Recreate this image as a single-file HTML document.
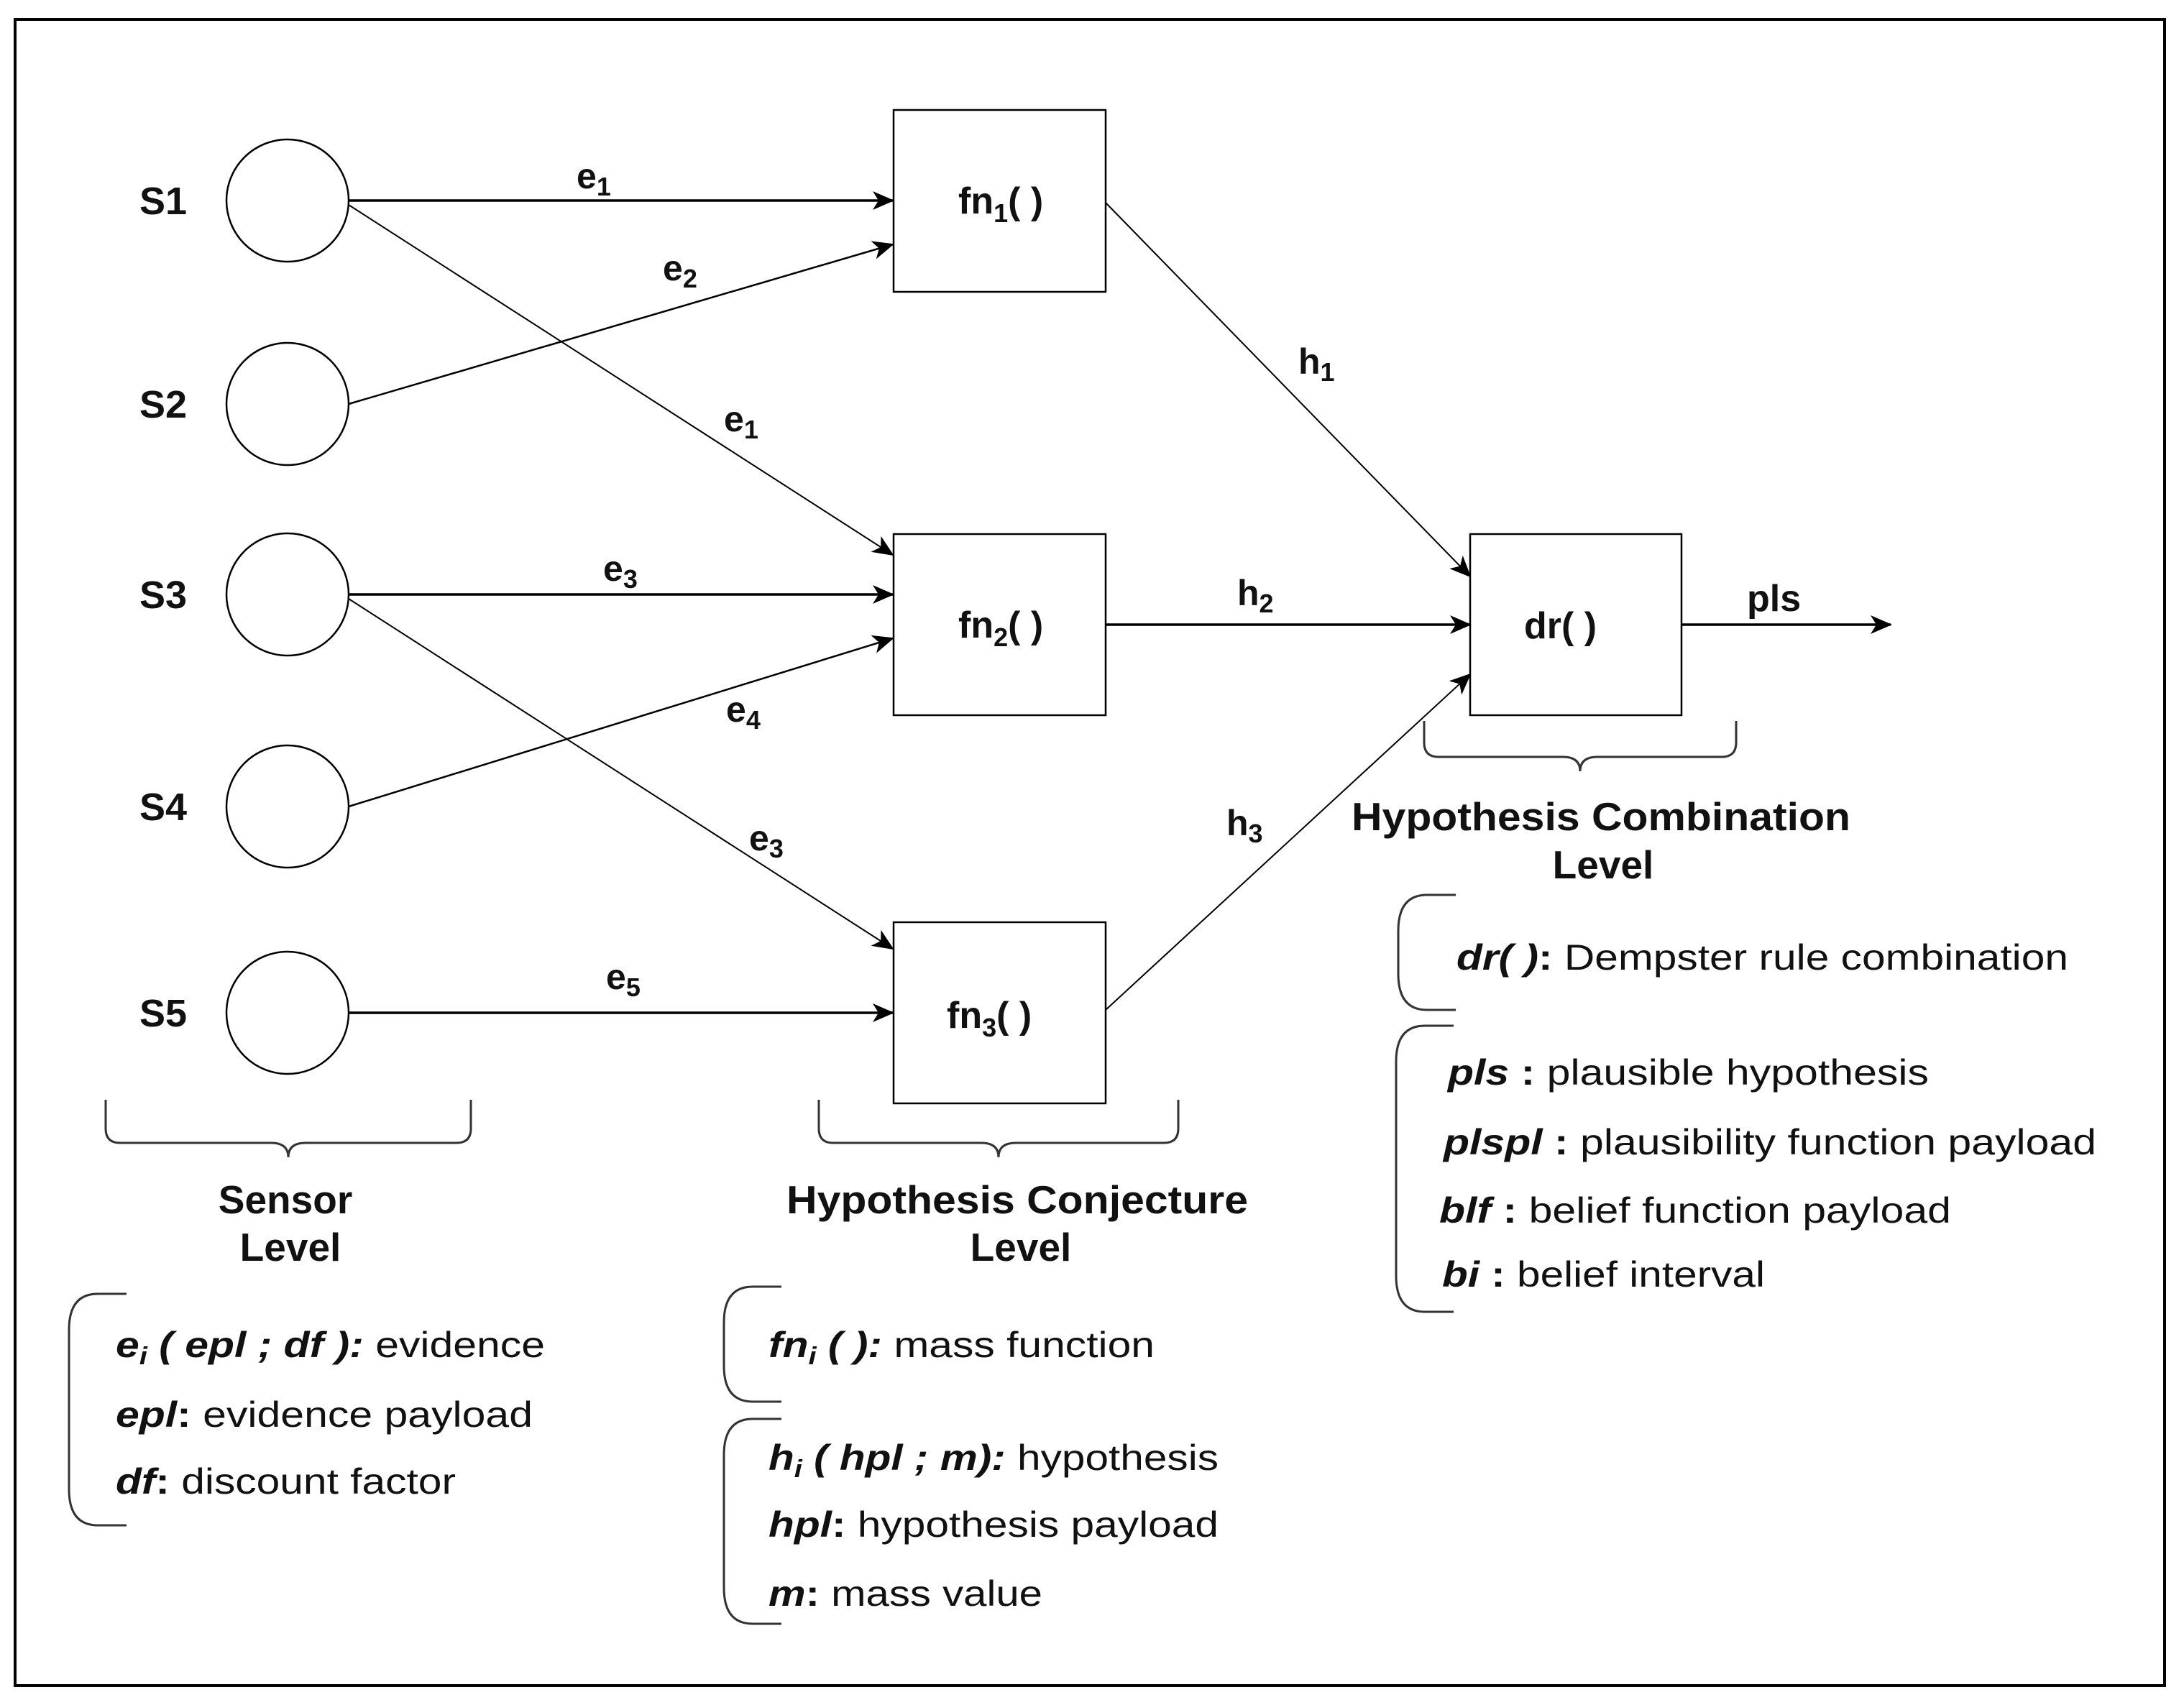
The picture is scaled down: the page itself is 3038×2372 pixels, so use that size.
<!DOCTYPE html>
<html><head><meta charset="utf-8"><style>html,body{margin:0;padding:0;background:#fff}svg{display:block}text{font-family:"Liberation Sans",Arial,sans-serif;fill:#111}</style></head>
<body>
<svg width="3038" height="2372" viewBox="0 0 3038 2372" xmlns="http://www.w3.org/2000/svg">
<defs>
<marker id="b" markerWidth="30" markerHeight="26" refX="28" refY="13" orient="auto" markerUnits="userSpaceOnUse" viewBox="0 0 30 26">
<path d="M0,0 L30,13 L0,26 L8,13 Z" fill="#000"/></marker>
</defs>
<rect x="21" y="27" width="2990" height="2318" fill="none" stroke="#000" stroke-width="4"/>

<g fill="#fff" stroke="#000" stroke-width="2.5">
<ellipse cx="400" cy="279" rx="85" ry="85"/>
<ellipse cx="400" cy="562" rx="85" ry="85"/>
<ellipse cx="400" cy="827" rx="85" ry="85"/>
<ellipse cx="400" cy="1122" rx="85" ry="85"/>
<ellipse cx="400" cy="1409" rx="85" ry="85"/>
<rect x="1243" y="153" width="295" height="253"/>
<rect x="1243" y="743" width="295" height="252"/>
<rect x="1243" y="1283" width="295" height="252"/>
<rect x="2045" y="743" width="294" height="252"/>
</g>

<g stroke="#000" fill="none">
<line x1="485" y1="279" x2="1242" y2="279" stroke-width="3.5" marker-end="url(#b)"/>
<line x1="485" y1="285" x2="1242" y2="772" stroke-width="2" marker-end="url(#b)"/>
<line x1="485" y1="562" x2="1242" y2="340" stroke-width="2.5" marker-end="url(#b)"/>
<line x1="485" y1="827" x2="1242" y2="827" stroke-width="3.5" marker-end="url(#b)"/>
<line x1="485" y1="833" x2="1242" y2="1320" stroke-width="2" marker-end="url(#b)"/>
<line x1="485" y1="1122" x2="1242" y2="888" stroke-width="2.5" marker-end="url(#b)"/>
<line x1="485" y1="1409" x2="1242" y2="1409" stroke-width="3.5" marker-end="url(#b)"/>
<line x1="1538" y1="282" x2="2045" y2="802" stroke-width="2" marker-end="url(#b)"/>
<line x1="1538" y1="869" x2="2045" y2="869" stroke-width="3.5" marker-end="url(#b)"/>
<line x1="1538" y1="1405" x2="2045" y2="938" stroke-width="2" marker-end="url(#b)"/>
<line x1="2339" y1="869" x2="2630" y2="869" stroke-width="3.5" marker-end="url(#b)"/>
</g>

<g stroke="#333" stroke-width="3" fill="none">
<path d="M147,1530 v40 q0,20 20,20 h210 q24,0 24,20 q0,-20 24,-20 h210 q20,0 20,-20 v-40"/>
<path d="M1139,1530 v40 q0,20 20,20 h206 q24,0 24,20 q0,-20 24,-20 h206 q20,0 20,-20 v-40"/>
<path d="M1981,1003 v30 q0,20 20,20 h173 q24,0 24,20 q0,-20 24,-20 h173 q20,0 20,-20 v-30"/>
<path d="M176,1800 h-40 q-40,0 -40,50 v222 q0,50 40,50 h40"/>
<path d="M1087,1790 h-40 q-40,0 -40,50 v60 q0,50 40,50 h40"/>
<path d="M1087,1974 h-40 q-40,0 -40,50 v185 q0,50 40,50 h40"/>
<path d="M2025,1245 h-40 q-40,0 -40,50 v60 q0,50 40,50 h40"/>
<path d="M2022,1427 h-40 q-40,0 -40,50 v298 q0,50 40,50 h40"/>
</g>

<g font-weight="bold" font-size="54">
<text x="194" y="298">S1</text>
<text x="194" y="581">S2</text>
<text x="194" y="846">S3</text>
<text x="194" y="1141">S4</text>
<text x="194" y="1428">S5</text>
</g>
<g font-weight="bold" font-size="52">
<text x="1333" y="297">fn<tspan font-size="36" dy="12">1</tspan><tspan dy="-12">( )</tspan></text>
<text x="1333" y="887">fn<tspan font-size="36" dy="12">2</tspan><tspan dy="-12">( )</tspan></text>
<text x="1317" y="1430">fn<tspan font-size="36" dy="12">3</tspan><tspan dy="-12">( )</tspan></text>
<text x="2120" y="888">dr( )</text>
<text x="2430" y="850">pls</text>
</g>
<g font-weight="bold" font-size="50">
<text x="802" y="262">e<tspan font-size="36" dy="10">1</tspan></text>
<text x="922" y="390">e<tspan font-size="36" dy="10">2</tspan></text>
<text x="1007" y="600">e<tspan font-size="36" dy="10">1</tspan></text>
<text x="839" y="808">e<tspan font-size="36" dy="10">3</tspan></text>
<text x="1010" y="1004">e<tspan font-size="36" dy="10">4</tspan></text>
<text x="1042" y="1183">e<tspan font-size="36" dy="10">3</tspan></text>
<text x="843" y="1376">e<tspan font-size="36" dy="10">5</tspan></text>
<text x="1806" y="520">h<tspan font-size="36" dy="10">1</tspan></text>
<text x="1721" y="842">h<tspan font-size="36" dy="10">2</tspan></text>
<text x="1706" y="1162">h<tspan font-size="36" dy="10">3</tspan></text>
</g>
<g font-weight="bold" font-size="55" text-anchor="middle">
<text x="397" y="1688">Sensor</text>
<text x="404" y="1754">Level</text>
<text x="1415" y="1688" textLength="642" lengthAdjust="spacingAndGlyphs">Hypothesis Conjecture</text>
<text x="1420" y="1754">Level</text>
<text x="2227" y="1155" textLength="694" lengthAdjust="spacingAndGlyphs">Hypothesis Combination</text>
<text x="2230" y="1222">Level</text>
</g>
<g font-size="50">
<text x="161" y="1888" textLength="597" lengthAdjust="spacingAndGlyphs"><tspan font-weight="bold" font-style="italic">e<tspan font-size="34" dy="10">i</tspan><tspan dy="-10"> ( epl ; df ):</tspan></tspan> evidence</text>
<text x="161" y="1985" textLength="580" lengthAdjust="spacingAndGlyphs"><tspan font-weight="bold" font-style="italic">epl</tspan><tspan font-weight="bold">:</tspan> evidence payload</text>
<text x="161" y="2078" textLength="473" lengthAdjust="spacingAndGlyphs"><tspan font-weight="bold" font-style="italic">df</tspan><tspan font-weight="bold">:</tspan> discount factor</text>
<text x="1069" y="1888" textLength="537" lengthAdjust="spacingAndGlyphs"><tspan font-weight="bold" font-style="italic">fn<tspan font-size="34" dy="10">i</tspan><tspan dy="-10"> ( ):</tspan></tspan> mass function</text>
<text x="1069" y="2045" textLength="626" lengthAdjust="spacingAndGlyphs"><tspan font-weight="bold" font-style="italic">h<tspan font-size="34" dy="10">i</tspan><tspan dy="-10"> ( hpl ; m):</tspan></tspan> hypothesis</text>
<text x="1069" y="2138" textLength="626" lengthAdjust="spacingAndGlyphs"><tspan font-weight="bold" font-style="italic">hpl</tspan><tspan font-weight="bold">:</tspan> hypothesis payload</text>
<text x="1069" y="2234" textLength="381" lengthAdjust="spacingAndGlyphs"><tspan font-weight="bold" font-style="italic">m</tspan><tspan font-weight="bold">:</tspan> mass value</text>
<text x="2026" y="1349" textLength="851" lengthAdjust="spacingAndGlyphs"><tspan font-weight="bold" font-style="italic">dr( )</tspan><tspan font-weight="bold">:</tspan> Dempster rule combination</text>
<text x="2014" y="1509" textLength="669" lengthAdjust="spacingAndGlyphs"><tspan font-weight="bold" font-style="italic">pls</tspan><tspan font-weight="bold"> :</tspan> plausible hypothesis</text>
<text x="2008" y="1606" textLength="908" lengthAdjust="spacingAndGlyphs"><tspan font-weight="bold" font-style="italic">plspl</tspan><tspan font-weight="bold"> :</tspan> plausibility function payload</text>
<text x="2002" y="1701" textLength="712" lengthAdjust="spacingAndGlyphs"><tspan font-weight="bold" font-style="italic">blf</tspan><tspan font-weight="bold"> :</tspan> belief function payload</text>
<text x="2006" y="1790" textLength="449" lengthAdjust="spacingAndGlyphs"><tspan font-weight="bold" font-style="italic">bi</tspan><tspan font-weight="bold"> :</tspan> belief interval</text>
</g>
</svg>
</body></html>
